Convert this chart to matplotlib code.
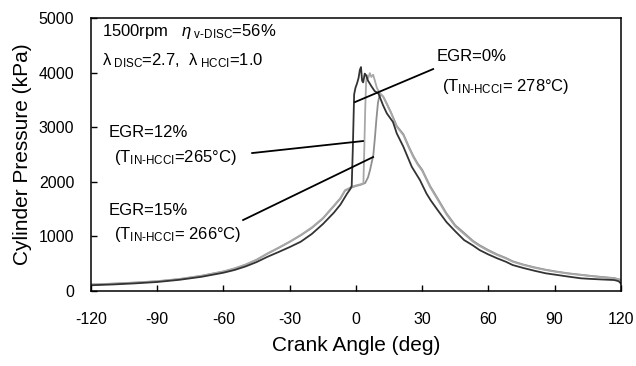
import matplotlib
matplotlib.use("Agg")
import matplotlib.pyplot as plt

plt.rcParams['font.family'] = ['Liberation Sans', 'DejaVu Sans']
plt.rcParams['mathtext.fontset'] = 'custom'
plt.rcParams['mathtext.rm'] = 'Liberation Sans'
plt.rcParams['mathtext.it'] = 'Liberation Sans:italic'
plt.rcParams['mathtext.bf'] = 'Liberation Sans:bold'
plt.rcParams['axes.unicode_minus'] = False

# ---- data ----
ca_egr0 = [-120, -110, -100, -90, -80, -70, -60, -55, -50, -45,
           -40, -35, -30, -25, -20, -15, -10, -7, -4, -2.6,
           -1.9, -1.4, -0.8, -0.2, 0.5, 1.2, 1.8, 2.3, 2.8, 3.3,
           4.0, 4.6, 5.5, 7.0, 8.5, 10.2, 12.3, 14, 16.8, 18.5,
           21.5, 25.3, 29, 32, 34, 37, 41, 45, 49, 53,
           56, 60, 64, 68, 71, 76, 81, 86, 91, 96,
           102, 107, 112, 117, 119, 120]
p_egr0 = [100, 115, 135, 160, 200, 255, 330, 380, 445, 525,
          623, 710, 800, 898, 1040, 1220, 1430, 1580, 1780, 1860,
          1920, 2600, 3600, 3720, 3800, 3900, 4050, 4100, 3850, 3820,
          3980, 3950, 3850, 3750, 3660, 3618, 3400, 3252, 3093, 2885,
          2640, 2273, 2029, 1780, 1650, 1480, 1260, 1090, 929, 830,
          746, 665, 594, 530, 471, 415, 365, 319, 290, 260,
          227, 215, 205, 196, 175, 135]

ca_egr12 = [-120, -110, -100, -90, -80, -70, -60, -55, -50, -45,
            -40, -35, -30, -25, -20, -15, -10, -7, -4.9, -2,
            0, 2, 3.4, 3.8, 4.2, 4.6, 5.0, 5.6, 6.3, 7.0,
            7.8, 8.6, 9.5, 10.5, 12.4, 14, 16, 18.5, 21.5, 24,
            26, 28, 30, 33.6, 36.6, 41, 45, 49, 53, 56,
            60, 64, 68, 71, 76, 81, 86, 91, 96, 102,
            107, 112, 117, 120]
p_egr12 = [115, 130, 150, 175, 215, 275, 355, 410, 480, 570,
           685, 790, 900, 1021, 1160, 1330, 1560, 1700, 1845, 1900,
           1930, 1950, 1970, 2600, 3300, 3800, 3950, 3900, 3990, 3920,
           3960, 3850, 3720, 3640, 3556, 3420, 3250, 3006, 2854, 2620,
           2450, 2310, 2200, 1900, 1700, 1400, 1180, 1040, 900, 820,
           730, 654, 590, 532, 470, 420, 379, 345, 315, 288,
           265, 245, 227, 196]

ca_egr15 = [-120, -110, -100, -90, -80, -70, -60, -55, -50, -45,
            -40, -35, -30, -25, -20, -15, -10, -7, -4.9, -2,
            0, 2, 4.2, 5.5, 6.4, 7.9, 8.6, 9.3, 10.0, 10.6,
            11.3, 12.4, 14, 16, 18.5, 21.5, 24, 26, 28, 30,
            33.6, 36.6, 41, 45, 49, 53, 56, 60, 64, 68,
            71, 76, 81, 86, 91, 96, 102, 107, 112, 117, 120]
p_egr15 = [112, 128, 148, 172, 212, 270, 350, 405, 475, 565,
           680, 785, 895, 1015, 1150, 1320, 1550, 1690, 1835, 1890,
           1920, 1940, 1975, 2080, 2212, 2490, 2800, 3150, 3450, 3560,
           3600, 3556, 3430, 3260, 3020, 2870, 2640, 2470, 2330, 2220,
           1920, 1720, 1420, 1200, 1060, 915, 835, 745, 665, 600,
           540, 478, 428, 385, 350, 320, 292, 270, 250, 232, 200]

xticks = [-120, -90, -60, -30, 0, 30, 60, 90, 120]
yticks = [0, 1000, 2000, 3000, 4000, 5000]

fig = plt.figure(figsize=(6.36, 3.66), dpi=100)
ax = fig.add_axes([0.1431, 0.2057, 0.8330, 0.7451])

ax.plot(ca_egr15, p_egr15, color='#8f8f8f', lw=1.3)
ax.plot(ca_egr12, p_egr12, color='#a8a8a8', lw=1.3)
ax.plot(ca_egr0, p_egr0, color='#333333', lw=1.3)

# leader lines
ax.plot([35.0, -0.4], [4064, 3459], color='black', lw=1.3)
ax.plot([-47.0, 3.2], [2524, 2744], color='black', lw=1.3)
ax.plot([-51.1, 7.8], [1296, 2451], color='black', lw=1.3)

ax.set_xlim(-120, 120)
ax.set_ylim(0, 5000)
ax.set_xticks(xticks)
ax.set_yticks(yticks)
ax.tick_params(direction='in', length=4, width=1, labelsize=11.5)
ax.tick_params(axis='y', pad=12)
ax.tick_params(axis='x', pad=15)
for s in ax.spines.values():
    s.set_linewidth(1.1)

ax.set_xlabel('Crank Angle (deg)', fontsize=15, labelpad=7)
ax.set_ylabel('Cylinder Pressure (kPa)', fontsize=15, labelpad=5)

fs = 12
hy = '\u2010'
ax.text(0.021, 0.934, r'1500rpm   $\eta_{\mathrm{\ v' + hy + r'DISC}}$=56%', transform=ax.transAxes,
        fontsize=fs, va='baseline', ha='left')
ax.text(0.021, 0.828, r'$\mathrm{\lambda}_{\mathrm{\ DISC}}$=2.7,  $\mathrm{\lambda}_{\mathrm{\ HCCI}}$=1.0',
        transform=ax.transAxes, fontsize=fs, va='baseline', ha='left')

def px2data(px, py):
    x = -120 + (px - 91) / 529.7 * 240
    y = (290.7 - py) / 272.7 * 5000
    return x, y

sub = r'$_{\mathrm{IN' + hy + r'HCCI}}$'
labels = [
    (437, 60.7, 'EGR=0%'),
    (442, 90.7, '(T' + sub + '= 278°C)'),
    (109, 136.7, 'EGR=12%'),
    (114, 161.7, '(T' + sub + '=265°C)'),
    (109, 215, 'EGR=15%'),
    (114, 239.3, '(T' + sub + '= 266°C)'),
]
for px, py, t in labels:
    x, y = px2data(px, py)
    ax.text(x, y, t, fontsize=fs, va='baseline', ha='left')

fig.savefig('out.png', dpi=100)
